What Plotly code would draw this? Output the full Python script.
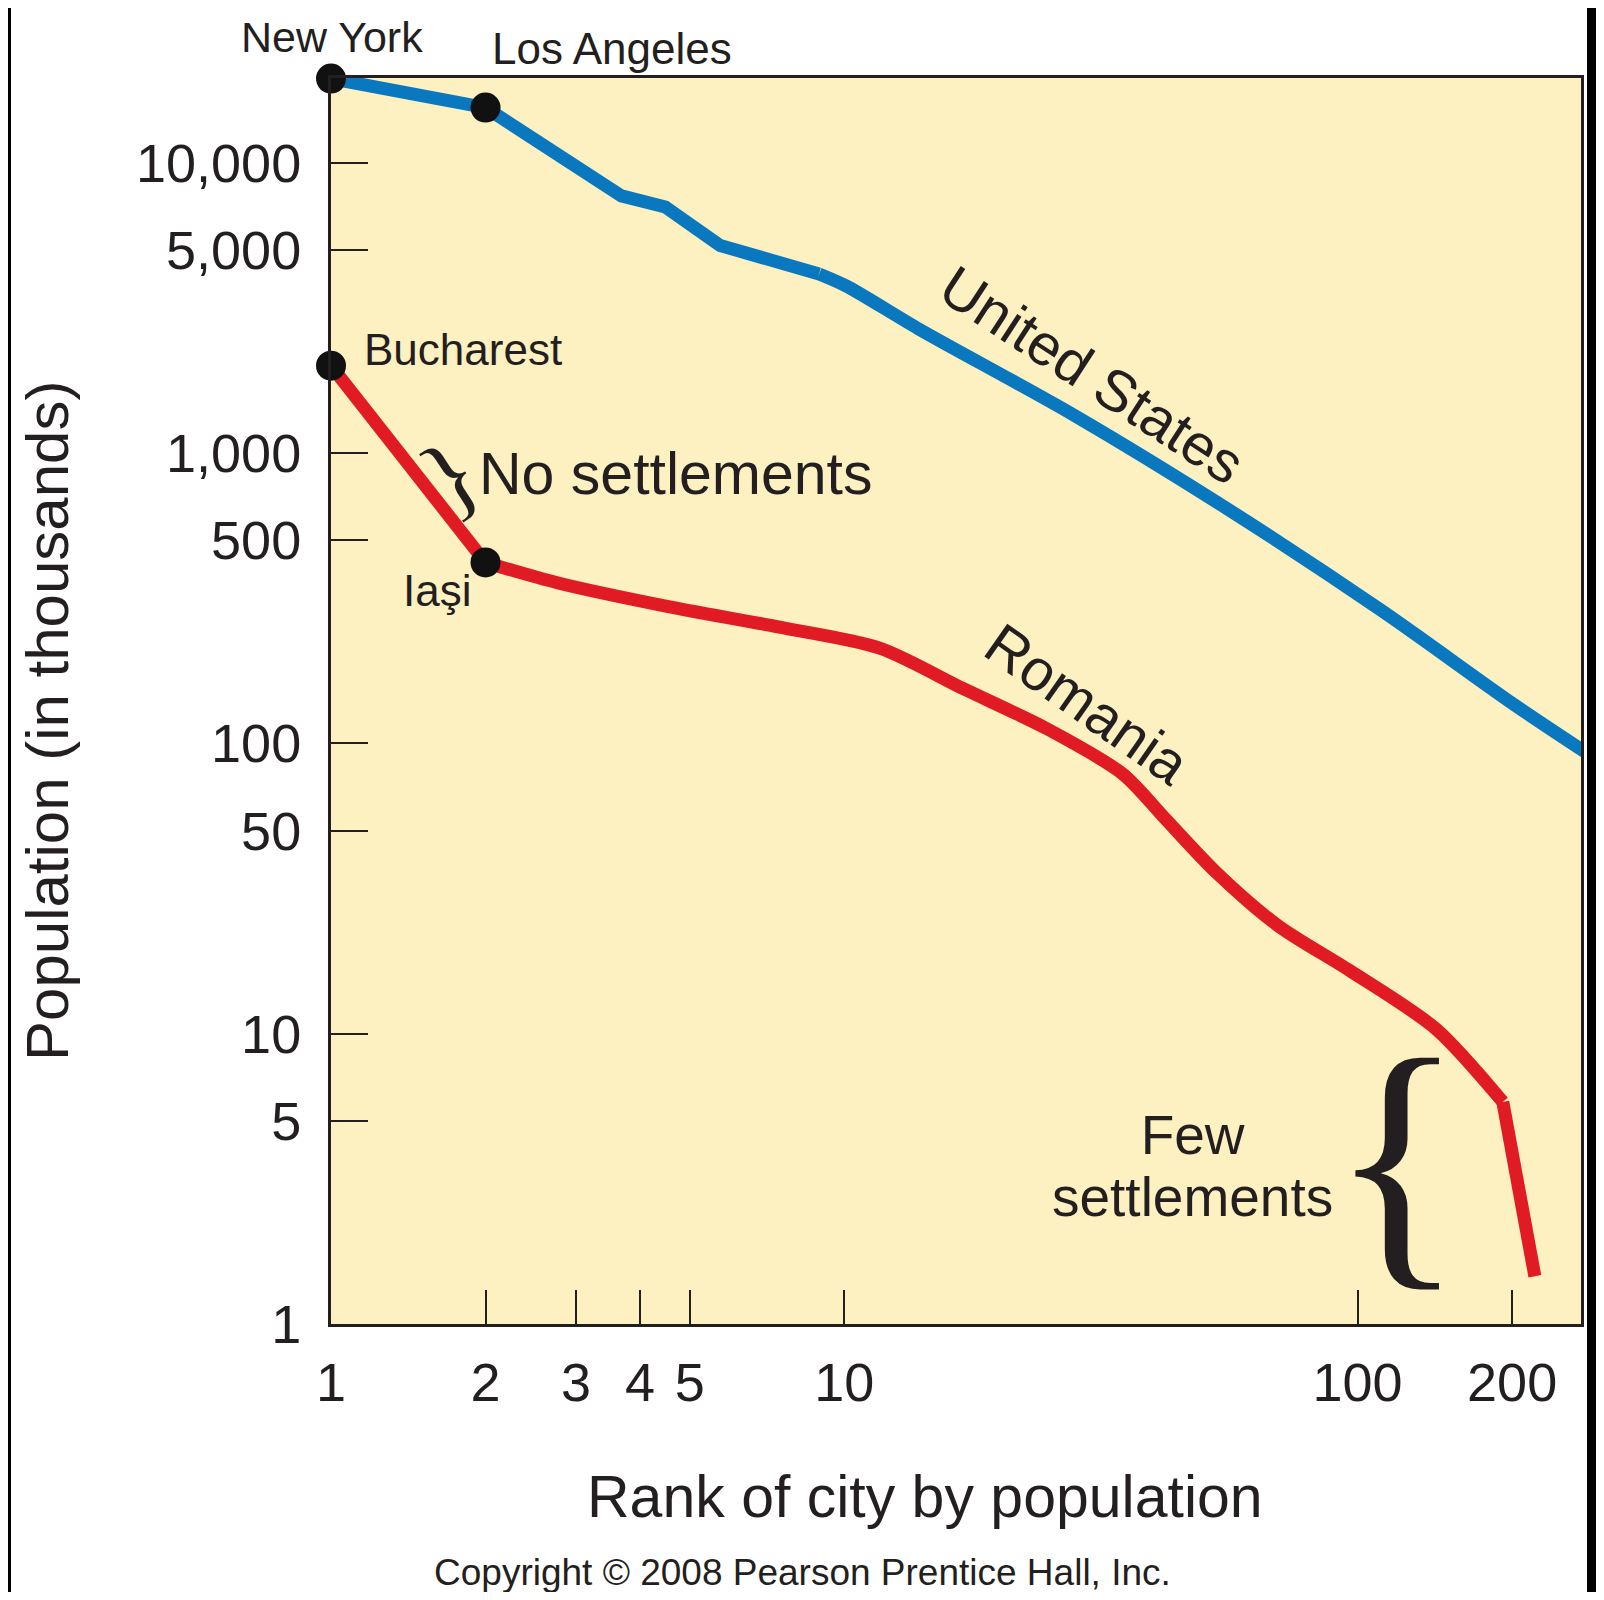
import plotly.graph_objects as go

# ---------------- data ----------------
us_rank = [1, 2, 3.68, 4.48, 5.73, 8.93, 10.1, 13.95, 28.0, 55.8, 111.6, 201.8, 298]
us_pop = [19500, 15500, 7690, 7040, 5190, 4140, 3760, 2680, 1352, 642, 286, 136, 86]

ro_rank = [1, 2, 2.77, 4.54, 7.43, 11.72, 17.1, 24.9, 34.9, 42.2, 52.9, 70.1, 96.5, 142, 191.8, 221.5]
ro_pop = [2000, 420, 357, 296, 252, 213, 154, 112, 78.4, 55.0, 36.1, 23.5, 16.5, 10.4, 5.82, 1.46]

city_names = ["New York", "Los Angeles", "Bucharest", "Iaşi"]
city_rank = [1, 2, 1, 2]
city_pop = [19500, 15500, 2000, 420]

x_tickvals = [1, 2, 3, 4, 5, 10, 100, 200]
x_ticktext = ["1", "2", "3", "4", "5", "10", "100", "200"]
y_tickvals = [1, 5, 10, 50, 100, 500, 1000, 5000, 10000]
y_ticktext = ["1", "5", "10", "50", "100", "500", "1,000", "5,000", "10,000"]

# ---------------- styling ----------------
OFF = 8                      # default page margin around the figure
W, H = 1596, 1584
ML, MR, MT, MB = 323, 23, 70, 268
PW, PH = W - ML - MR, H - MT - MB
INK = "#231f20"
BLUE = "#0a78be"
RED = "#e01b24"
YELLOW = "#fdf0c1"
SANS = "Liberation Sans, Arial, Helvetica, sans-serif"
SERIF = "Liberation Serif, Times New Roman, serif"


def px(x):   # page pixel -> paper fraction
    return (x - OFF - ML) / PW


def py(y):
    return (H - MB - (y - OFF)) / PH


fig = go.Figure()
# United States: straight segments among the largest cities, smooth tail
fig.add_trace(go.Scatter(x=us_rank[:6], y=us_pop[:6], mode="lines", name="United States",
                         line=dict(color=BLUE, width=13)))
fig.add_trace(go.Scatter(x=us_rank[5:], y=us_pop[5:], mode="lines", showlegend=False,
                         line=dict(color=BLUE, width=13, shape="spline", smoothing=0.8)))
# Romania: sharp drop Bucharest -> Iasi, smooth middle, sharp final drop
fig.add_trace(go.Scatter(x=ro_rank[:2], y=ro_pop[:2], mode="lines", name="Romania",
                         line=dict(color=RED, width=13)))
fig.add_trace(go.Scatter(x=ro_rank[1:15], y=ro_pop[1:15], mode="lines", showlegend=False,
                         line=dict(color=RED, width=13, shape="spline", smoothing=0.8)))
fig.add_trace(go.Scatter(x=ro_rank[14:], y=ro_pop[14:], mode="lines", showlegend=False,
                         line=dict(color=RED, width=13)))
fig.add_trace(go.Scatter(x=city_rank, y=city_pop, mode="markers", text=city_names,
                         marker=dict(color="#111111", size=30), cliponaxis=False))

shapes = [
    dict(type="rect", xref="paper", yref="paper", x0=px(11), x1=px(1587), y0=py(1620), y1=py(0),
         fillcolor="white", line=dict(width=0), layer="below"),
    dict(type="rect", xref="x domain", yref="y domain", x0=0, x1=1, y0=0, y1=1,
         fillcolor=YELLOW, line=dict(width=0), layer="below"),
]


def ann(text, x, y, size, angle=0, family=SANS):
    return dict(text=text, x=px(x), y=py(y), xref="paper", yref="paper", showarrow=False,
                xanchor="center", yanchor="middle", textangle=angle,
                font=dict(family=family, size=size, color=INK))


BIG = "<span style='font-size:55px'>%s</span>"
annotations = [
    ann("New York", 332, 37, 43),
    ann("Los Angeles", 612, 48, 44),
    ann("Bucharest", 463, 349, 44),
    ann("Iaşi", 437, 590, 44),
    ann("}", 450, 476, 98, angle=-33, family=SERIF),
    ann("No settlements", 676, 474, 59),
    ann("United States", 1092, 375, 58, angle=33),
    ann("Romania", 1087, 704, 58, angle=35),
    ann(BIG % "Few" + "<br>" + BIG % "settlements", 1192, 1166, 48),
    ann("{", 1397, 1157, 280, family=SERIF),
    ann("Rank of city by population", 925, 1497, 59),
    ann("Population (in thousands)", 47, 721, 60, angle=-90),
    ann("Copyright © 2008 Pearson Prentice Hall, Inc.", 802, 1572, 37),
]

fig.update_layout(
    width=W, height=H,
    margin=dict(l=ML, r=MR, t=MT, b=MB, pad=0),
    paper_bgcolor="black",
    plot_bgcolor=YELLOW,
    showlegend=False,
    shapes=shapes,
    annotations=annotations,
    font=dict(family=SANS, color=INK),
)

fig.update_xaxes(type="log", range=[0, PW / 513.3], tickvals=x_tickvals, ticktext=x_ticktext,
                 ticks="inside", ticklen=34, tickwidth=2, tickcolor=INK,
                 showline=True, linewidth=3, linecolor=INK, mirror=True,
                 showgrid=False, zeroline=False, automargin=False,
                 tickfont=dict(family=SANS, size=54, color=INK), ticklabelstandoff=9)
fig.update_yaxes(type="log", range=[0, PH / 290.3], tickvals=y_tickvals, ticktext=y_ticktext,
                 ticks="inside", ticklen=37, tickwidth=2, tickcolor=INK,
                 showline=True, linewidth=3, linecolor=INK, mirror=True,
                 showgrid=False, zeroline=False, automargin=False,
                 tickfont=dict(family=SANS, size=54, color=INK), ticklabelstandoff=16)

fig.write_html("out.html")
